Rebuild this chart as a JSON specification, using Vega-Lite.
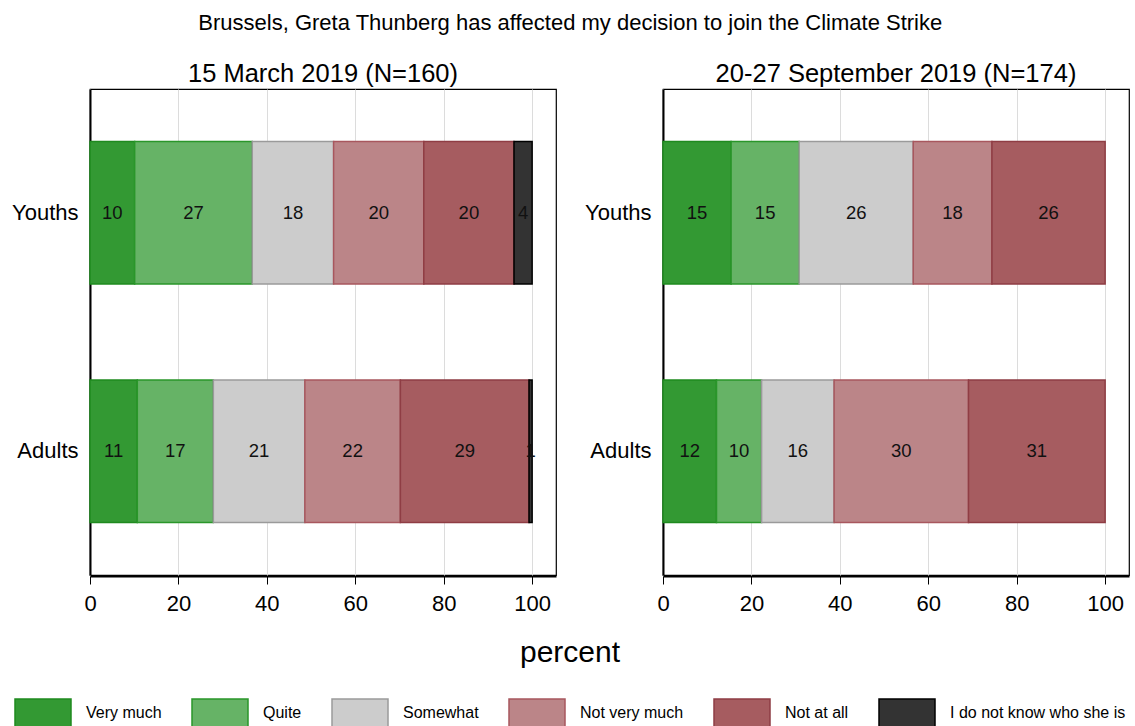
{
  "$schema": "https://vega.github.io/schema/vega-lite/v6.json",
  "padding": {"left": 10, "top": 11, "right": 5, "bottom": 0},
  "background": "white",
  "title": {"text": "Brussels, Greta Thunberg has affected my decision to join the Climate Strike", "fontSize": 22, "fontWeight": "normal", "anchor": "middle", "offset": 27, "color": "black"},
  "data": {"values": [
    {"wave": "15 March 2019 (N=160)", "group": "Youths", "resp": "Very much", "rank": 1, "pct": 10.1},
    {"wave": "15 March 2019 (N=160)", "group": "Youths", "resp": "Quite", "rank": 2, "pct": 26.6},
    {"wave": "15 March 2019 (N=160)", "group": "Youths", "resp": "Somewhat", "rank": 3, "pct": 18.4},
    {"wave": "15 March 2019 (N=160)", "group": "Youths", "resp": "Not very much", "rank": 4, "pct": 20.4},
    {"wave": "15 March 2019 (N=160)", "group": "Youths", "resp": "Not at all", "rank": 5, "pct": 20.4},
    {"wave": "15 March 2019 (N=160)", "group": "Youths", "resp": "I do not know who she is", "rank": 6, "pct": 4.1},
    {"wave": "15 March 2019 (N=160)", "group": "Adults", "resp": "Very much", "rank": 1, "pct": 10.7},
    {"wave": "15 March 2019 (N=160)", "group": "Adults", "resp": "Quite", "rank": 2, "pct": 17.2},
    {"wave": "15 March 2019 (N=160)", "group": "Adults", "resp": "Somewhat", "rank": 3, "pct": 20.7},
    {"wave": "15 March 2019 (N=160)", "group": "Adults", "resp": "Not very much", "rank": 4, "pct": 21.6},
    {"wave": "15 March 2019 (N=160)", "group": "Adults", "resp": "Not at all", "rank": 5, "pct": 29.1},
    {"wave": "15 March 2019 (N=160)", "group": "Adults", "resp": "I do not know who she is", "rank": 6, "pct": 0.7},
    {"wave": "20-27 September 2019 (N=174)", "group": "Youths", "resp": "Very much", "rank": 1, "pct": 15.4},
    {"wave": "20-27 September 2019 (N=174)", "group": "Youths", "resp": "Quite", "rank": 2, "pct": 15.4},
    {"wave": "20-27 September 2019 (N=174)", "group": "Youths", "resp": "Somewhat", "rank": 3, "pct": 25.8},
    {"wave": "20-27 September 2019 (N=174)", "group": "Youths", "resp": "Not very much", "rank": 4, "pct": 17.8},
    {"wave": "20-27 September 2019 (N=174)", "group": "Youths", "resp": "Not at all", "rank": 5, "pct": 25.6},
    {"wave": "20-27 September 2019 (N=174)", "group": "Adults", "resp": "Very much", "rank": 1, "pct": 12.1},
    {"wave": "20-27 September 2019 (N=174)", "group": "Adults", "resp": "Quite", "rank": 2, "pct": 10.2},
    {"wave": "20-27 September 2019 (N=174)", "group": "Adults", "resp": "Somewhat", "rank": 3, "pct": 16.4},
    {"wave": "20-27 September 2019 (N=174)", "group": "Adults", "resp": "Not very much", "rank": 4, "pct": 30.4},
    {"wave": "20-27 September 2019 (N=174)", "group": "Adults", "resp": "Not at all", "rank": 5, "pct": 30.9}
  ]},
  "transform": [
    {"stack": "pct", "groupby": ["wave", "group"], "sort": [{"field": "rank"}], "as": ["p0", "p1"]}
  ],
  "facet": {
    "column": {
      "field": "wave", "type": "nominal",
      "sort": ["15 March 2019 (N=160)", "20-27 September 2019 (N=174)"],
      "title": "percent",
      "header": {"labelOrient": "top", "labelFontSize": 25.5, "labelColor": "black", "labelPadding": 1, "titleOrient": "bottom", "titleFontSize": 30, "titleFontWeight": "normal", "titleColor": "black", "titlePadding": 14}
    }
  },
  "spacing": 26,
  "resolve": {"axis": {"y": "independent"}},
  "spec": {
    "width": 466,
    "height": 486,
    "layer": [
      {
        "mark": {"type": "bar", "strokeWidth": 1.5, "opacity": 1},
        "encoding": {
          "y": {"field": "group", "type": "nominal", "sort": ["Youths", "Adults"], "scale": {"paddingInner": 0.402, "paddingOuter": 0.22}, "axis": {"title": null, "ticks": false, "labelFontSize": 22, "labelPadding": 12, "labelColor": "black", "domainColor": "black", "domainWidth": 2}},
          "x": {"field": "p0", "type": "quantitative", "scale": {"domain": [0, 105.4], "nice": false}, "axis": {"title": null, "values": [0, 20, 40, 60, 80, 100], "labelFlush": false, "grid": true, "gridColor": "#dcdcdc", "labelFontSize": 22, "labelColor": "black", "domainColor": "black", "domainWidth": 2, "tickColor": "black", "tickSize": 8, "labelPadding": 9}},
          "x2": {"field": "p1"},
          "fill": {"field": "resp", "type": "nominal", "title": null,
            "scale": {"domain": ["Very much", "Quite", "Somewhat", "Not very much", "Not at all", "I do not know who she is"], "range": ["#339933", "#66b366", "#cccccc", "#bb8588", "#a65c60", "#333333"]}},
          "stroke": {"field": "resp", "type": "nominal", "title": null,
            "scale": {"domain": ["Very much", "Quite", "Somewhat", "Not very much", "Not at all", "I do not know who she is"], "range": ["#1f8a1f", "#2a962a", "#9a9a9a", "#a8575e", "#8f3d44", "#000000"]}}
        }
      },
      {
        "transform": [
          {"fold": ["p0", "p1"], "as": ["edge", "pos"]},
          {"aggregate": [{"op": "mean", "field": "pos", "as": "mid"}], "groupby": ["wave", "group", "resp", "pct"]}
        ],
        "mark": {"type": "text", "fontSize": 18.5, "color": "#111111", "baseline": "middle", "align": "center"},
        "encoding": {
          "y": {"field": "group", "type": "nominal", "sort": ["Youths", "Adults"]},
          "x": {"field": "mid", "type": "quantitative"},
          "text": {"field": "pct", "type": "quantitative", "format": ".0f"}
        }
      }
    ]
  },
  "config": {
    "font": "Liberation Sans",
    "view": {"stroke": "black", "strokeWidth": 1.2},
    "legend": {
      "orient": "bottom",
      "direction": "horizontal",
      "symbolType": "M-1,-1H3V1H-1Z",
      "symbolSize": 784,
      "symbolStrokeWidth": 1.5,
      "labelFontSize": 16,
      "labelColor": "black",
      "labelOffset": 42,
      "labelLimit": 0,
      "columnPadding": 27,
      "offset": 30,
      "layout": {"bottom": {"anchor": "middle"}}
    }
  }
}
